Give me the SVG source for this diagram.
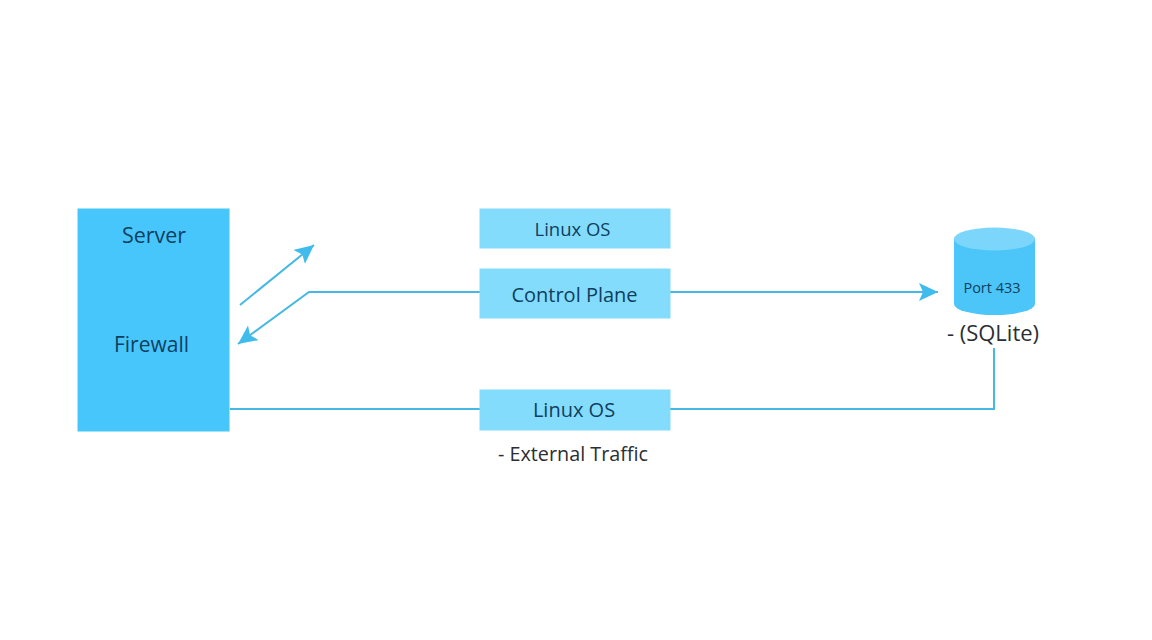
<svg xmlns="http://www.w3.org/2000/svg" width="1152" height="640" viewBox="0 0 1152 640">
<style>
text{font-family:"Open Sans","Noto Sans","Liberation Sans",sans-serif;text-anchor:middle}
.dark{fill:#0f3f5f}
.black{fill:#2a2f33}
.light{fill:#84dcfd}
.edge{fill:none;stroke:#47b8e4;stroke-width:2}
</style>
<defs>
<marker id="arrow" markerUnits="userSpaceOnUse" markerWidth="22" markerHeight="20" refX="19" refY="9" orient="auto"><path d="M0 0L19 9L0 18L4 9Z" fill="#3fbcec"/></marker>
</defs>
<rect width="1152" height="640" fill="#fff"/>
<g id="connectors">
<path class="edge" d="M240 305L314 245" marker-end="url(#arrow)"/>
<path class="edge" d="M480 292H309L238 344" marker-end="url(#arrow)"/>
<path class="edge" d="M670 292H938" marker-end="url(#arrow)"/>
<path class="edge" d="M230 409H480M670 409H994V348"/>
</g>
<g id="server">
<rect x="77.500" y="208.500" width="152" height="223" fill="#47c6fc"/>
<text class="dark" x="154" y="243" font-size="21.500">Server</text>
<text class="dark" x="151.500" y="352" font-size="21">Firewall</text>
</g>
<g id="linux-os-top">
<rect class="light" x="479.500" y="208.500" width="191" height="40"/>
<text class="dark" x="572.500" y="236" font-size="18.500">Linux OS</text>
</g>
<g id="control-plane">
<rect class="light" x="479.500" y="268.500" width="191" height="50"/>
<text class="dark" x="574.500" y="302" font-size="20">Control Plane</text>
</g>
<g id="linux-os-bottom">
<rect class="light" x="479.500" y="389.500" width="191" height="41"/>
<text class="dark" x="574" y="417" font-size="20">Linux OS</text>
</g>
<text id="external-traffic" class="black" x="573" y="461" font-size="19.800">- External Traffic</text>
<g id="port-433">
<path d="M954 239V304A40.500 11 0 0 0 1035 304V239Z" fill="#4cc5f9"/>
<ellipse cx="994.500" cy="239" rx="40.500" ry="11.500" fill="#7cd6fb"/>
<text class="dark" x="992" y="293" font-size="14.500">Port 433</text>
</g>
<text id="sqlite" class="black" x="993" y="341" font-size="22">- (SQLite)</text>
</svg>
